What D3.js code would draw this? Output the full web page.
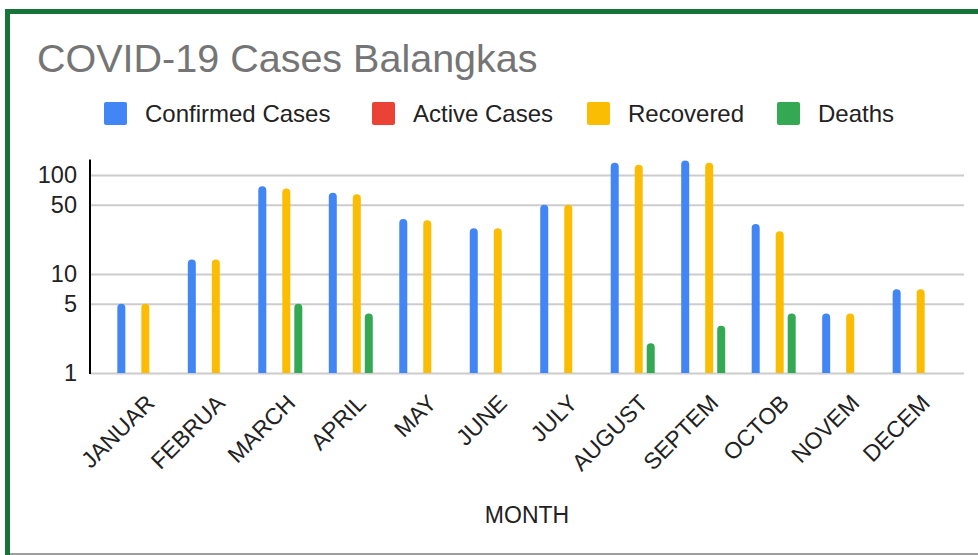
<!DOCTYPE html>
<html>
<head>
<meta charset="utf-8">
<script src="https://cdn.jsdelivr.net/npm/d3@7"></script>
<style>
  body { margin: 0; background: #fff; }
  svg { display: block; font-family: "Liberation Sans", Arial, sans-serif; }
</style>
</head>
<body>
<div id="chart"></div>
<script>
const months = ['JANUAR', 'FEBRUA', 'MARCH', 'APRIL', 'MAY', 'JUNE', 'JULY', 'AUGUST', 'SEPTEM', 'OCTOB', 'NOVEM', 'DECEM'];
const confirmed = [5, 14, 77, 66, 36, 29, 50, 133, 140, 32, 4, 7];
const active = [0, 0, 0, 0, 0, 0, 0, 0, 0, 0, 0, 0];
const recovered = [5, 14, 73, 64, 35, 29, 50, 127, 133, 27, 4, 7];
const deaths = [0, 0, 5, 4, 1, 0, 0, 2, 3, 4, 0, 0];
const seriesNames = ['Confirmed Cases', 'Active Cases', 'Recovered', 'Deaths'];
const yTicks = [1, 5, 10, 50, 100];

const W = 978, H = 555;
const left = 90, right = 964, base = 373;
const colors = d3.scaleOrdinal()
  .domain(seriesNames)
  .range(['#4285f4', '#ea4335', '#fbbc04', '#34a853']);

const series = [confirmed, active, recovered, deaths];
const data = months.map((m, i) => ({
  month: m,
  values: seriesNames.map((k, j) => ({ key: k, value: series[j][i] }))
}));

const svg = d3.select('#chart').append('svg')
  .attr('width', W)
  .attr('height', H);

// frame (selected chart look)
svg.append('path')
  .attr('d', `M7.5,${H} V11.5 H${W}`)
  .attr('fill', 'none')
  .attr('stroke', '#16733a')
  .attr('stroke-width', 5);
svg.append('line')
  .attr('x1', 10).attr('x2', W)
  .attr('y1', 554).attr('y2', 554)
  .attr('stroke', '#9e9e9e')
  .attr('stroke-width', 2);

svg.append('text')
  .attr('x', 37)
  .attr('y', 72)
  .text('COVID-19 Cases Balangkas')
  .attr('font-size', '39.5px')
  .attr('fill', '#757575');

// legend
const legendX = [104, 372, 587, 777];
const legend = svg.append('g');
seriesNames.forEach((k, i) => {
  const item = legend.append('g').attr('transform', `translate(${legendX[i]}, 102)`);
  item.append('rect')
    .attr('width', 23)
    .attr('height', 23)
    .attr('rx', 2)
    .attr('fill', colors(k));
  item.append('text')
    .attr('x', 41)
    .attr('y', 20)
    .text(k)
    .attr('font-size', '24px')
    .attr('fill', '#222');
});

const x0 = d3.scaleBand()
  .domain(months)
  .range([left, right])
  .paddingInner(0)
  .paddingOuter(0.2);

const x1 = d3.scaleBand()
  .domain(seriesNames)
  .range([0, 48]);

const y = d3.scaleLog()
  .domain([1, 100])
  .range([base, 175]);

const maxVal = d3.max(series, s => d3.max(s));

// gridlines
svg.append('g')
  .attr('transform', `translate(${left},0)`)
  .call(d3.axisLeft(y).tickValues(yTicks).tickSize(-(right - left)).tickFormat(''))
  .call(g => g.select('.domain').remove())
  .call(g => g.selectAll('line').attr('stroke', '#cccccc').attr('stroke-width', 2));

// y labels
svg.append('g')
  .attr('transform', `translate(${left},0)`)
  .call(d3.axisLeft(y).tickValues(yTicks).tickSize(0).tickPadding(13).tickFormat(d3.format('d')))
  .call(g => g.select('.domain').remove())
  .call(g => g.selectAll('text').attr('font-size', '23.5px').attr('fill', '#222').attr('font-family', null));

// bars
const barW = 8;
const barPath = (bx, v) => {
  const top = y(v), h = base - top;
  const r = Math.min(barW / 2, h);
  return `M${bx},${base}V${top + r}A${r},${r} 0 0 1 ${bx + barW / 2},${top}` +
    `A${r},${r} 0 0 1 ${bx + barW},${top + r}V${base}Z`;
};

const offset = (x0.bandwidth() - 48) / 2;
svg.selectAll('.group')
  .data(data)
  .enter()
  .append('g')
  .attr('transform', d => `translate(${x0(d.month) + offset},0)`)
  .selectAll('path')
  .data(d => d.values.filter(v => v.value > 1))
  .enter()
  .append('path')
  .attr('d', d => barPath(x1(d.key) + (x1.bandwidth() - barW) / 2, d.value))
  .attr('fill', d => colors(d.key));

// vertical axis line
svg.append('line')
  .attr('x1', left).attr('x2', left)
  .attr('y1', y(maxVal) - 1).attr('y2', base + 1)
  .attr('stroke', '#000')
  .attr('stroke-width', 2);

// x axis
svg.append('g')
  .attr('transform', `translate(0,${base})`)
  .call(d3.axisBottom(x0).tickSize(0))
  .call(g => g.select('.domain').remove())
  .call(g => g.selectAll('text')
    .attr('x', 0)
    .attr('y', 0)
    .attr('dy', '0.71em')
    .attr('text-anchor', 'end')
    .attr('transform', 'translate(5,20) rotate(-45)')
    .attr('font-size', '23px')
    .attr('font-family', null)
    .attr('fill', '#222'));

svg.append('text')
  .attr('x', (left + right) / 2)
  .attr('y', 523)
  .attr('text-anchor', 'middle')
  .text('MONTH')
  .attr('font-size', '23px')
  .attr('fill', '#222');
</script>
</body>
</html>
